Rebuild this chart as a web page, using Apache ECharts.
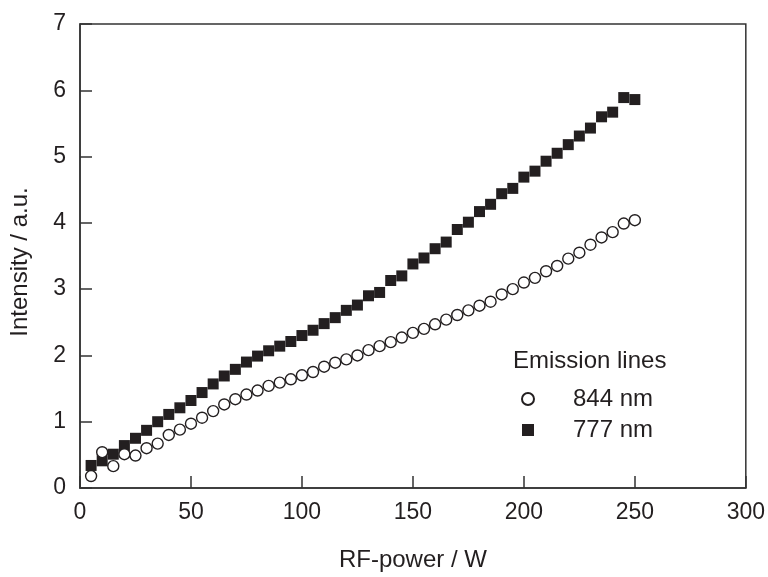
<!DOCTYPE html>
<html>
<head>
<meta charset="utf-8">
<script src="https://cdn.jsdelivr.net/npm/echarts@6/dist/echarts.min.js"></script>
<style>html,body{margin:0;padding:0;background:#fff}#c{width:768px;height:577px}</style>
</head>
<body>
<div id="c"></div>
<script>
const power = [5,10,15,20,25,30,35,40,45,50,55,60,65,70,75,80,85,90,95,100,105,110,115,120,125,130,135,140,145,150,155,160,165,170,175,180,185,190,195,200,205,210,215,220,225,230,235,240,245,250];
const i777 = [0.34,0.41,0.51,0.64,0.75,0.87,1.00,1.11,1.21,1.32,1.44,1.57,1.69,1.79,1.90,1.99,2.07,2.14,2.21,2.30,2.38,2.48,2.57,2.68,2.76,2.90,2.95,3.13,3.20,3.38,3.47,3.61,3.71,3.90,4.01,4.17,4.28,4.44,4.52,4.69,4.78,4.93,5.05,5.18,5.31,5.43,5.60,5.67,5.89,5.86];
const i844 = [0.18,0.54,0.33,0.51,0.49,0.60,0.67,0.80,0.88,0.97,1.06,1.16,1.26,1.34,1.41,1.47,1.54,1.59,1.64,1.70,1.75,1.83,1.89,1.94,2.00,2.08,2.14,2.20,2.27,2.34,2.40,2.47,2.54,2.61,2.68,2.75,2.81,2.92,3.00,3.10,3.17,3.27,3.35,3.46,3.55,3.67,3.78,3.86,3.99,4.04];
const seriesNames = ['844 nm', '777 nm'];
const legendTitle = 'Emission lines';
const xName = 'RF-power / W';
const yName = 'Intensity / a.u.';

const ink = '#231f20';
const axisCol = '#333333';
const font = "'Liberation Sans', Arial, Helvetica, sans-serif";

const chart = echarts.init(document.getElementById('c'));
chart.setOption({
  animation: false,
  backgroundColor: '#fff',
  textStyle: { fontFamily: font, color: ink },
  title: {
    text: legendTitle,
    left: 513, top: 349,
    padding: 0,
    textStyle: { fontFamily: font, fontSize: 24, fontWeight: 'normal', color: ink }
  },
  legend: {
    data: seriesNames,
    orient: 'vertical',
    left: 521, top: 387,
    padding: 0,
    itemWidth: 12, itemHeight: 12,
    itemGap: 7,
    textStyle: { fontFamily: font, fontSize: 24, color: ink, lineHeight: 24, padding: [0, 0, 0, 34] }
  },
  grid: {
    left: 79, top: 24, right: 21, bottom: 86,
    show: true, borderColor: axisCol, borderWidth: 1.5, backgroundColor: 'transparent'
  },
  xAxis: {
    type: 'value', min: 0, max: 300, interval: 50,
    name: xName, nameLocation: 'middle', nameGap: 60,
    nameTextStyle: { fontFamily: font, fontSize: 24, color: ink },
    axisLine: { show: true, lineStyle: { color: axisCol, width: 1.5 } },
    axisTick: { show: true, inside: true, length: 12, lineStyle: { color: axisCol, width: 1.5 } },
    axisLabel: { fontFamily: font, fontSize: 23, color: ink, margin: 13 },
    splitLine: { show: false }
  },
  yAxis: {
    type: 'value', min: 0, max: 7, interval: 1,
    name: yName, nameLocation: 'middle', nameGap: 48, nameRotate: 90,
    nameTextStyle: { fontFamily: font, fontSize: 24, color: ink, padding: [0, 12, 0, 0] },
    axisLine: { show: true, lineStyle: { color: axisCol, width: 1.5 } },
    axisTick: { show: true, inside: true, length: 12, lineStyle: { color: axisCol, width: 1.5 } },
    axisLabel: { fontFamily: font, fontSize: 23, color: ink, margin: 14 },
    splitLine: { show: false }
  },
  series: [
    {
      name: seriesNames[1], type: 'scatter', symbol: 'rect', symbolSize: 11,
      itemStyle: { color: ink, opacity: 1 },
      data: power.map((p, i) => [p, i777[i]]),
      z: 2
    },
    {
      name: seriesNames[0], type: 'scatter', symbol: 'circle', symbolSize: 11,
      itemStyle: { color: '#ffffff', borderColor: ink, borderWidth: 1.4, opacity: 1 },
      data: power.map((p, i) => [p, i844[i]]),
      z: 3
    }
  ]
});
</script>
</body>
</html>
